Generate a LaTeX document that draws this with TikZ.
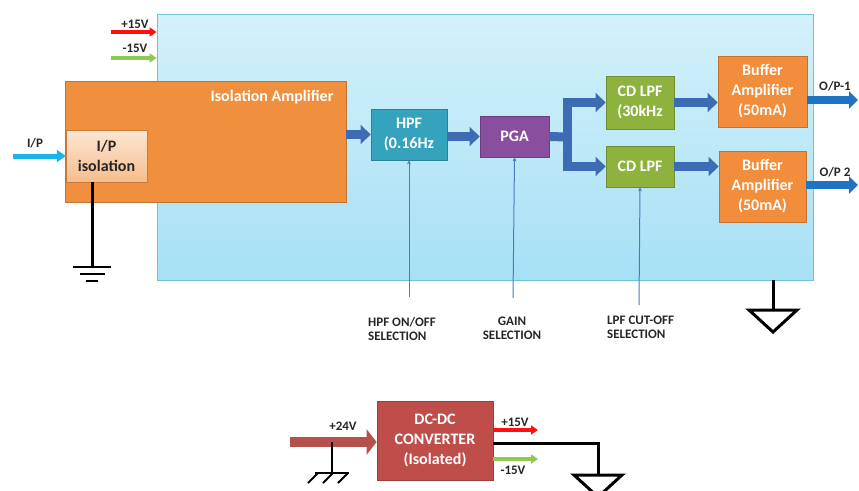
\documentclass[tikz,border=0pt]{standalone}
\usepackage{fontspec}
\setmainfont{Carlito}
\usetikzlibrary{arrows.meta, positioning}

\definecolor{boardtop}{HTML}{D3F1FB}
\definecolor{boardbot}{HTML}{A7E0F4}
\definecolor{boardedge}{HTML}{6FC0D8}
\definecolor{isoorange}{HTML}{F0903E}
\definecolor{ipisotop}{HTML}{FCE6D3}
\definecolor{ipisobot}{HTML}{F7BD8C}
\definecolor{hpfteal}{HTML}{35A3BD}
\definecolor{pgapurple}{HTML}{8A4E9E}
\definecolor{lpfgreen}{HTML}{8DB33E}
\definecolor{buforange}{HTML}{F28D3B}
\definecolor{dcred}{HTML}{BF4E4B}
\definecolor{busblue}{HTML}{3D6CB4}
\definecolor{opblue}{HTML}{1E74C2}
\definecolor{ipcyan}{HTML}{1CB2EA}
\definecolor{posred}{HTML}{FF1010}
\definecolor{neggreen}{HTML}{8DC94E}
\definecolor{vinred}{HTML}{B5504D}
\definecolor{ctrlblue}{HTML}{4A7CBF}
\definecolor{darktext}{HTML}{262626}

\begin{document}
\begin{tikzpicture}[
    x=1pt, y=-1pt,
    every node/.style={font=\fontsize{16}{20}\selectfont\bfseries, align=center, inner sep=0pt},
    block/.style={draw=#1!80!black, fill=#1, text=white, line width=0.8pt},
    sigtext/.style={font=\fontsize{13}{14}\selectfont\bfseries, text=darktext},
    bus/.style={line width=9pt, draw=busblue, line join=miter, -{Triangle[length=10pt, width=19pt]}},
    outarrow/.style={line width=8pt, draw=opblue, -{Triangle[length=9pt, width=17pt]}},
    supply/.style={line width=4pt, draw=#1, -{Triangle[length=7pt, width=9pt]}},
    ctrl/.style={line width=1pt, draw=ctrlblue, -{Stealth[length=4pt, width=4pt]}},
    wire/.style={line width=3pt, draw=black},
    thinwire/.style={line width=2pt, draw=black}
  ]
  \useasboundingbox (0,0) rectangle (859,490);

  % Main board
  \node (board) [draw=boardedge, top color=boardtop, bottom color=boardbot, line width=0.8pt,
    minimum width=656pt, minimum height=266pt] at (485,147) {};

  % Isolation amplifier with input stage
  \node (isoamp) [block=isoorange, minimum width=281pt, minimum height=121pt] at (205.5,141.5) {};
  \node (isotitle) [text=white] at (272,97) {Isolation Amplifier};
  \node (ipiso) [draw=isoorange!85!black, top color=ipisotop, bottom color=ipisobot, text=darktext,
    minimum width=81pt, minimum height=52pt] at (106.5,156) {I/P\\isolation};

  % Signal chain
  \node (hpf)  [block=hpfteal, minimum width=76pt, minimum height=51pt] at (409,134.5) {HPF\\(0.16Hz};
  \node (pga)  [block=pgapurple, minimum width=69pt, minimum height=41pt] at (514.5,136.5) {PGA};
  \node (lpfa) [block=lpfgreen, minimum width=68pt, minimum height=53pt] at (640,102.5) {CD LPF\\(30kHz};
  \node (lpfb) [block=lpfgreen, minimum width=68pt, minimum height=41pt] at (640,166.5) {CD LPF};
  \node (bufa) [block=buforange, minimum width=89pt, minimum height=71pt] at (762.5,91.5) {Buffer\\Amplifier\\(50mA)};
  \node (bufb) [block=buforange, minimum width=87pt, minimum height=71pt] at (762.5,186.5) {Buffer\\Amplifier\\(50mA)};

  % Power supply
  \node (dcdc) [block=dcred, minimum width=116pt, minimum height=79pt] at (435,440.5) {DC-DC\\CONVERTER\\(Isolated)};

  % Free ends
  \coordinate (ipin) at (13,156);
  \coordinate (pos) at (111,32);
  \coordinate (neg) at (111,58);
  \coordinate (split) at (567,137);
  \coordinate (opa) at (858,100);
  \coordinate (opb) at (858,185);
  \coordinate (hpfsel) at (409,297);
  \coordinate (gainsel) at (513,298);
  \coordinate (lpfsel) at (639,305);
  \coordinate (gndl) at (92,267);
  \coordinate (gndr) at (773,310);
  \coordinate (vin) at (290,442);
  \coordinate (chassis) at (332,473);
  \coordinate (posout) at (538,430);
  \coordinate (negout) at (538,459);
  \coordinate (gndp) at (598,475);

  % Supply rails into the board
  \draw[supply=posred] (pos) -- (pos -| board.west);
  \draw[supply=neggreen] (neg) -- (neg -| board.west);
  \node[sigtext] at (135,24) {+15V};
  \node[sigtext] at (135,48) {-15V};

  % Input
  \draw[line width=5pt, draw=ipcyan, -{Triangle[length=9pt, width=12pt]}] (ipin) -- (ipiso.west);
  \node[sigtext] at (35,143) {I/P};

  % Signal path
  \draw[bus] (isoamp.east |- hpf) -- (hpf.west);
  \draw[bus] (hpf.east |- pga) -- (pga.west);
  \draw[line width=9pt, draw=busblue] (pga.east) -- (split);
  \draw[bus] (split |- lpfb.west) |- (lpfa.west);
  \draw[bus] (split |- lpfa.west) |- (lpfb.west);
  \draw[bus] (lpfa.east) -- (lpfa.east -| bufa.west);
  \draw[bus] (lpfb.east) -- (lpfb.east -| bufb.west);

  % Outputs
  \draw[outarrow] (bufa.east |- opa) -- (opa);
  \draw[outarrow] (bufb.east |- opb) -- (opb);
  \node[sigtext] at (835,86) {O/P-1};
  \node[sigtext] at (835,172) {O/P 2};

  % Selection inputs
  \draw[ctrl] (hpfsel) -- (hpf.south);
  \draw[ctrl] (gainsel) -- (pga.south);
  \draw[ctrl] (lpfsel) -- (lpfb.south);
  \node[sigtext, align=left, anchor=west] at (368,328.5) {HPF ON/OFF\\SELECTION};
  \node[sigtext] at (512,328.5) {GAIN\\SELECTION};
  \node[sigtext, align=left, anchor=west] at (607,327) {LPF CUT-OFF\\SELECTION};

  % Grounds
  \draw[wire] (gndl |- ipiso.south) -- (gndl);
  \draw[thinwire] ([xshift=-19pt]gndl) -- ([xshift=19pt]gndl);
  \draw[thinwire] ([xshift=-12.5pt, yshift=-7pt]gndl) -- ([xshift=12.5pt, yshift=-7pt]gndl);
  \draw[thinwire] ([xshift=-6pt, yshift=-14pt]gndl) -- ([xshift=6pt, yshift=-14pt]gndl);
  \draw[wire] (board.south -| gndr) -- (gndr);
  \draw[wire, line join=miter] ([xshift=-24pt]gndr) -- ([xshift=24pt]gndr) -- ([yshift=-22pt]gndr) -- cycle;

  % DC-DC converter connections
  \draw[line width=10pt, draw=vinred, -{Triangle[length=10pt, width=25pt]}] (vin) -- (dcdc.west |- vin);
  \node[sigtext] at (343,426) {+24V};
  \draw[thinwire] (vin -| chassis) -- (chassis);
  \draw[thinwire] ([xshift=-17pt]chassis) -- ([xshift=17pt]chassis);
  \foreach \dx in {-14,1,16}
    \draw[thinwire] ([xshift=\dx pt]chassis) -- ++(-10,10);
  \draw[supply=posred] (dcdc.east |- posout) -- (posout);
  \draw[supply=neggreen] (dcdc.east |- negout) -- (negout);
  \node[sigtext] at (515,422) {+15V};
  \node[sigtext] at (513,470) {-15V};
  \draw[wire] (dcdc.east |- 0,443) -| (gndp);
  \draw[wire, line join=miter] ([xshift=-24pt]gndp) -- ([xshift=24pt]gndp) -- ([yshift=-22pt]gndp) -- cycle;
\end{tikzpicture}
\end{document}
